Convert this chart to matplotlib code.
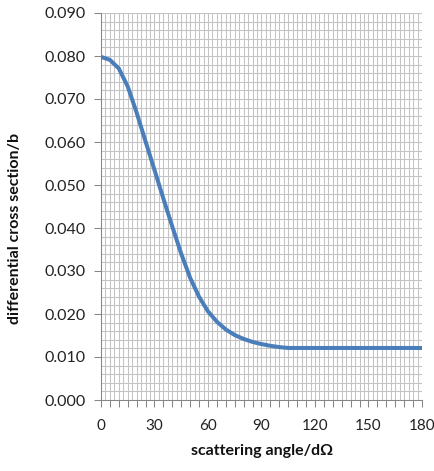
import numpy as np
import matplotlib
matplotlib.use('Agg')
import matplotlib.pyplot as plt
from matplotlib.ticker import MultipleLocator, FormatStrFormatter

# angle in degrees, cross section in barns
angle = [0, 5, 10, 15, 20, 25, 30, 35, 40, 45, 50, 55, 60, 65, 70, 75, 80, 85, 90,
         95, 100, 105, 110, 120, 130, 140, 150, 160, 170, 180]
dsigma = [0.0798, 0.0791, 0.0771, 0.0729, 0.0668, 0.0601, 0.0535, 0.0468, 0.0403,
          0.0340, 0.0284, 0.0240, 0.0206, 0.0182, 0.0164, 0.0151, 0.0142, 0.0135,
          0.0130, 0.0126, 0.0123, 0.0121, 0.0121, 0.0121, 0.0121, 0.0121, 0.0121,
          0.0121, 0.0121, 0.0121]

plt.rcParams['font.family'] = ['Lato', 'DejaVu Sans']

fig = plt.figure(figsize=(4.35, 4.71), dpi=100)
ax = fig.add_axes([101/435, 1-400/471, 321/435, 387/471])

gridc = '#c4c4c4'
for gx in np.arange(0, 180.01, 2.5):
    ax.axvline(gx, color=gridc, lw=0.75, zorder=0)
for gy in np.arange(0, 0.0901, 0.002):
    ax.axhline(gy, color=gridc, lw=0.75, zorder=0)

ax.plot(angle, dsigma, color='#4a7ebb', lw=2.9, solid_joinstyle='round',
        solid_capstyle='butt', zorder=3)

ax.set_xlim(0, 180)
ax.set_ylim(0, 0.09)
ax.xaxis.set_major_locator(MultipleLocator(30))
ax.xaxis.set_minor_locator(MultipleLocator(5))
ax.yaxis.set_major_locator(MultipleLocator(0.01))
ax.yaxis.set_major_formatter(FormatStrFormatter('%.3f'))

for s in ['top', 'right']:
    ax.spines[s].set_visible(False)
for s in ['left', 'bottom']:
    ax.spines[s].set_color('#868686')
    ax.spines[s].set_linewidth(0.75)

ax.tick_params(which='both', direction='out', color='#868686', width=0.75,
               labelcolor='#222222')
ax.tick_params(axis='x', which='both', length=5, pad=9, labelsize=11)
ax.tick_params(axis='y', which='major', length=5, pad=6, labelsize=11.5)

fig.text(262/435, 1-451/471, 'scattering angle/d\u03a9', ha='center', va='center',
         fontsize=11.5, fontweight='bold', color='#111111')
fig.text(15/435, 1-228/471, 'differential cross section/b', ha='center', va='center',
         rotation=90, fontsize=11.5, fontweight='bold', color='#111111')

fig.savefig('out.png', dpi=100, facecolor='white')
